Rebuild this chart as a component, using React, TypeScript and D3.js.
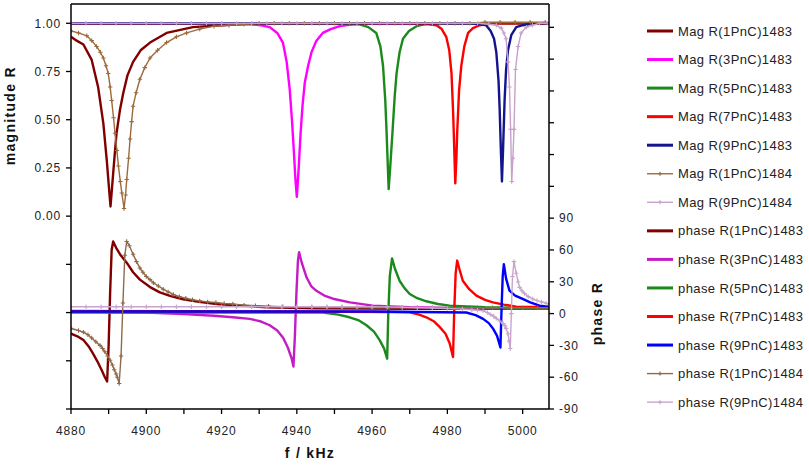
import React from 'react';
import * as d3 from 'd3';

const width = 809;
const height = 466;
const plotLeft = 71;
const plotRight = 549;
const plotTop = 4;
const plotBottom = 409;
const font = '"Liberation Sans", Arial, sans-serif';

type Pt = [number, number];

// magnitude R (left axis), [f kHz, R]
const magR1_1483: Pt[] = [
  [4880, 0.93], [4881.5, 0.91], [4883.3, 0.89], [4885.5, 0.81], [4887.2, 0.67], [4888.6, 0.48],
  [4889.5, 0.29], [4890.2, 0.12], [4890.5, 0.05], [4891.2, 0.22], [4891.7, 0.34], [4892.1, 0.43],
  [4893, 0.55], [4893.9, 0.64], [4895, 0.73], [4896.5, 0.8], [4898.5, 0.86], [4901, 0.9],
  [4905.4, 0.95], [4912.4, 0.98], [4920, 0.99], [4930, 1], [4950, 1], [4970, 1], [4990, 1], [5007, 1],
];
const magR3_1483: Pt[] = [
  [4880, 1], [4920, 1], [4927.5, 0.995], [4930.5, 0.99], [4932.8, 0.98], [4934.8, 0.95], [4936.3, 0.9],
  [4937.3, 0.8], [4938.1, 0.66], [4938.7, 0.5], [4939.2, 0.34], [4939.6, 0.2], [4940, 0.1],
  [4940.5, 0.25], [4941, 0.43], [4941.5, 0.57], [4942.1, 0.69], [4943, 0.78], [4943.9, 0.85],
  [4945.2, 0.91], [4946.9, 0.95], [4949, 0.97], [4951.4, 0.985], [4955, 0.995], [4960, 1], [5007, 1],
];
const magR5_1483: Pt[] = [
  [4880, 1], [4950, 1], [4956.7, 0.995], [4959, 0.98], [4961.1, 0.95], [4962.2, 0.88], [4962.9, 0.78],
  [4963.5, 0.6], [4963.8, 0.46], [4964.1, 0.3], [4964.4, 0.14], [4964.8, 0.25], [4965.4, 0.43],
  [4966, 0.62], [4966.5, 0.74], [4967.3, 0.85], [4968.2, 0.92], [4969.8, 0.96], [4971.8, 0.985],
  [4975, 1], [5007, 1],
];
const magR7_1483: Pt[] = [
  [4880, 1], [4970, 1], [4975, 0.995], [4977.1, 0.99], [4978.5, 0.97], [4979.7, 0.93], [4980.5, 0.86],
  [4981.1, 0.74], [4981.5, 0.55], [4981.7, 0.43], [4982.1, 0.17], [4982.4, 0.3], [4982.6, 0.43],
  [4983.1, 0.65], [4983.7, 0.78], [4984.5, 0.88], [4985.5, 0.95], [4986.8, 0.975], [4988.6, 0.99],
  [4992, 1], [5007, 1],
];
const magR9_1483: Pt[] = [
  [4880, 1], [4960, 1], [4986, 1], [4989, 0.995], [4990.3, 0.99], [4991.5, 0.96], [4992.4, 0.92],
  [4993, 0.85], [4993.6, 0.7], [4993.9, 0.55], [4994.2, 0.35], [4994.5, 0.18], [4994.8, 0.35],
  [4995.2, 0.6], [4995.6, 0.76], [4996.1, 0.86], [4997, 0.94], [4998.3, 0.98], [5000, 0.99],
  [5003, 1], [5007, 1],
];
const magR1_1484: Pt[] = [
  [4880, 0.96], [4882, 0.95], [4884.2, 0.935], [4885.5, 0.91], [4886.8, 0.88], [4887.8, 0.85],
  [4888.6, 0.82], [4889.3, 0.78], [4889.9, 0.74], [4890.4, 0.67], [4890.8, 0.6], [4891.3, 0.51],
  [4891.7, 0.43], [4892.2, 0.34], [4892.6, 0.26], [4893.1, 0.18], [4893.5, 0.12], [4894.1, 0.04],
  [4894.5, 0.11], [4894.8, 0.19], [4895.3, 0.3], [4895.7, 0.4], [4896.1, 0.49], [4896.5, 0.57],
  [4897.3, 0.64], [4898.3, 0.71], [4899.6, 0.77], [4901, 0.82], [4903, 0.86], [4905.4, 0.9],
  [4908, 0.93], [4910.7, 0.95], [4914.2, 0.97], [4918, 0.985], [4922, 0.99], [4926, 0.995],
  [4930, 1], [4934, 1], [4938, 1], [4942, 1], [4946, 1], [4950, 1], [4954, 1], [4958, 1],
  [4962, 1], [4966, 1], [4970, 1], [4974, 1], [4978, 1], [4982, 1], [4986, 1], [4990, 1.005],
  [4994, 1.005], [4998, 1.005], [5002, 1.005], [5006, 1.005],
];
const magR9_1484: Pt[] = [
  [4880, 1], [4884, 1], [4888, 1], [4892, 1], [4896, 1], [4900, 1], [4904, 1], [4908, 1],
  [4912, 1], [4916, 1], [4920, 1], [4924, 1], [4928, 1], [4932, 1], [4936, 1], [4940, 1],
  [4944, 1], [4948, 1], [4952, 1], [4956, 1], [4960, 1], [4964, 1], [4968, 1], [4972, 1],
  [4976, 1], [4980, 1], [4984, 1], [4988, 1], [4991, 0.995], [4993, 0.99], [4994.3, 0.975],
  [4995, 0.95], [4995.6, 0.92], [4996.1, 0.8], [4996.5, 0.67], [4996.8, 0.45], [4997.1, 0.18],
  [4997.4, 0.3], [4997.7, 0.45], [4998.1, 0.76], [4998.8, 0.88], [4999.6, 0.95], [5001, 0.98],
  [5002.6, 0.99], [5004.5, 1], [5006.5, 1],
];

// phase R (right axis), [f kHz, degrees]
const phaseR1_1483: Pt[] = [
  [4880, -19], [4882, -22], [4883.3, -25], [4884.7, -31], [4885.9, -38], [4887, -45], [4888.1, -53],
  [4889, -60], [4889.6, -64], [4890, -30], [4890.4, 20], [4890.8, 60], [4891.2, 68], [4892, 62],
  [4893, 56], [4894.8, 48], [4896.5, 39], [4898.3, 32], [4901, 25], [4903.6, 20], [4906.5, 16.5],
  [4909.8, 13.5], [4914, 11], [4918.7, 9], [4925, 7.5], [4932, 6], [4945, 5], [4970, 4.5], [5007, 4.5],
];
const phaseR3_1483: Pt[] = [
  [4880, 2], [4900, 1], [4910, -0.5], [4918, -2], [4923, -3.5], [4927.5, -5], [4930.5, -7.5],
  [4932.8, -11], [4934.8, -16], [4936.4, -23], [4937.6, -32], [4938.6, -42], [4939.1, -50],
  [4939.5, -20], [4939.9, 20], [4940.3, 50], [4940.6, 58], [4941.3, 48], [4942.6, 34], [4943.8, 26],
  [4945.2, 21.5], [4947.3, 17], [4949.6, 14], [4954.1, 10.6], [4960.2, 7.5], [4970, 6], [4985, 5],
  [5007, 4.5],
];
const phaseR5_1483: Pt[] = [
  [4880, 1], [4920, 1], [4947, 1], [4951, -1], [4954, -3.5], [4956.5, -6.5], [4958.5, -11],
  [4960.5, -17], [4962, -25], [4963.2, -33], [4964, -42.5], [4964.3, 0], [4964.7, 35], [4965.3, 52],
  [4966.1, 42], [4967.3, 31], [4968.6, 24], [4970, 18.5], [4972, 14.5], [4974.4, 11.6], [4977.5, 9],
  [4980.6, 7.5], [4990, 6], [5007, 5],
];
const phaseR7_1483: Pt[] = [
  [4880, 2.5], [4940, 2], [4965, 1.5], [4970, 1.2], [4972.5, -1], [4974.4, -3.5], [4976.5, -7.5],
  [4978, -12.8], [4979.5, -19], [4980.6, -28], [4981.5, -41], [4981.8, 0], [4982.2, 38], [4982.6, 50],
  [4983.2, 42], [4984.1, 31], [4985.8, 23], [4987.7, 17], [4990, 13], [4992.1, 10.6], [4995, 8.5],
  [4998.3, 6.6], [5007, 6],
];
const phaseR9_1483: Pt[] = [
  [4880, 2], [4960, 2], [4985, 1], [4987.5, -1.5], [4989.5, -5], [4991, -9], [4992.1, -14],
  [4993.2, -21], [4994.1, -32], [4994.4, 5], [4994.7, 35], [4995, 46.5], [4995.6, 33], [4996.5, 21.6],
  [4998, 17], [5000, 13.8], [5002, 10.5], [5004.5, 7.5], [5007, 6.5],
];
const phaseR1_1484: Pt[] = [
  [4880, -14], [4882, -16], [4883.3, -17.5], [4884.5, -20], [4885.5, -23], [4886.6, -26.5],
  [4887.7, -30], [4888.4, -33], [4889, -36], [4889.7, -40], [4890.4, -44], [4891, -48.5],
  [4891.5, -53], [4892, -57], [4892.3, -60], [4892.8, -66], [4893.3, -40], [4893.8, 10],
  [4894.3, 55], [4894.8, 68], [4895.5, 64], [4896.5, 56], [4897.4, 49], [4898.3, 43], [4899.1, 39],
  [4900, 35], [4901, 32], [4901.9, 29], [4903.2, 26], [4904.5, 23], [4905.8, 20.5], [4907.2, 18],
  [4908.8, 16], [4910.5, 14.5], [4912.3, 13], [4914.2, 12], [4916.3, 11], [4918.5, 10.5],
  [4920.7, 9.5], [4923, 9], [4926, 8], [4929, 7.5], [4932.5, 7], [4936.3, 6.5], [4940, 6.2],
  [4944, 6], [4948, 5.8], [4952, 5.7], [4956, 5.6], [4960, 5.5], [4964, 5.5], [4968, 5.5],
  [4972, 5.5], [4976, 5.5], [4980, 5.5], [4984, 5.5], [4988, 5.5], [4992, 5.5], [4996, 5.5],
  [5000, 5.5], [5004, 5.5], [5007, 5.5],
];
const phaseR9_1484: Pt[] = [
  [4880, 6.5], [4884, 6.5], [4888, 6.5], [4892, 6.5], [4896, 6.5], [4900, 6.5], [4904, 6.5],
  [4908, 6.5], [4912, 6.5], [4916, 6.5], [4920, 6.5], [4924, 6.5], [4928, 6.5], [4932, 6.5],
  [4936, 6.5], [4940, 6.5], [4944, 6.5], [4948, 6.5], [4952, 6.5], [4956, 6.5], [4960, 6.5],
  [4964, 6.3], [4968, 6], [4972, 5.6], [4976, 5.2], [4980, 4.8], [4984, 4.2], [4986.5, 3.6],
  [4988, 3.2], [4989.5, 2.8], [4990.6, 1], [4991.5, -1], [4992.3, -2.5], [4993, -4.5],
  [4993.9, -7], [4994.8, -9.5], [4995.3, -11.5], [4995.6, -14], [4996.1, -19], [4996.4, -26],
  [4996.7, -33], [4997, 0], [4997.3, 35], [4997.7, 49], [4998.3, 38], [4998.8, 30], [4999.2, 24.7],
  [4999.8, 21.5], [5000.5, 19], [5001.5, 16], [5002.7, 13.8], [5003.8, 12.3], [5005, 11],
  [5006.2, 9.8], [5007, 9],
];

const seriesNames = [
  'Mag R(1PnC)1483', 'Mag R(3PnC)1483', 'Mag R(5PnC)1483', 'Mag R(7PnC)1483', 'Mag R(9PnC)1483',
  'Mag R(1PnC)1484', 'Mag R(9PnC)1484',
  'phase R(1PnC)1483', 'phase R(3PnC)1483', 'phase R(5PnC)1483', 'phase R(7PnC)1483',
  'phase R(9PnC)1483', 'phase R(1PnC)1484', 'phase R(9PnC)1484',
];
const seriesData = [
  magR1_1483, magR3_1483, magR5_1483, magR7_1483, magR9_1483, magR1_1484, magR9_1484,
  phaseR1_1483, phaseR3_1483, phaseR5_1483, phaseR7_1483, phaseR9_1483, phaseR1_1484, phaseR9_1484,
];

const magTicks = [-1, -0.75, -0.5, -0.25, 0, 0.25, 0.5, 0.75, 1];
const phaseTicks = [-90, -60, -30, 0, 30, 60, 90, 120, 150, 180, 210, 240, 270];
const freqTicks = [4880, 4890, 4900, 4910, 4920, 4930, 4940, 4950, 4960, 4970, 4980, 4990, 5000];

const colors = [
  '#800000', '#ff00ff', '#1b8a1b', '#ff0000', '#14148c', '#9c6b3c', '#c8a0cc',
  '#800000', '#c41cc4', '#1b8a1b', '#ff0000', '#0000ff', '#8f6a48', '#c8a6cc',
];
const withMarker = (i: number) => i === 5 || i === 6 || i === 12 || i === 13;
const isPhase = (i: number) => i >= 7;

const x = d3.scaleLinear().domain([4880, 5007]).range([plotLeft, plotRight]);
const yMag = d3.scaleLinear().domain([-1, 1.1]).range([plotBottom, plotTop]);
const yPhase = d3.scaleLinear().domain([-90, 292]).range([plotBottom, plotTop]);

const App = () => {
  const legendY = (i: number) => 31 + i * 28.55;
  return (
    <svg width={width} height={height} style={{ position: 'absolute', left: 0, top: 0, background: '#fff' }}>
      <defs>
        <clipPath id="plot">
          <rect x={plotLeft} y={plotTop} width={plotRight - plotLeft} height={plotBottom - plotTop} />
        </clipPath>
      </defs>
      <rect width={width} height={height} fill="#fff" />

      <g clipPath="url(#plot)">
        {seriesData.map((data, i) => {
          const yS = isPhase(i) ? yPhase : yMag;
          const gen = d3.line<Pt>().x(d => x(d[0])).y(d => yS(d[1]));
          const marker = withMarker(i);
          return (
            <g key={i}>
              <path d={gen(data) as string} fill="none" stroke={colors[i]}
                strokeWidth={marker ? 1.4 : 2.4} strokeLinejoin="round" />
              {marker && data.map((d, j) => (
                <path key={j} d={`M${x(d[0]) - 2.2},${yS(d[1])}h4.4M${x(d[0])},${yS(d[1]) - 2.2}v4.4`}
                  stroke={colors[i]} strokeWidth={1.1} />
              ))}
            </g>
          );
        })}
      </g>

      {/* frame and axes */}
      <g stroke="#000" strokeWidth={1.5} fill="none">
        <line x1={plotLeft} x2={plotRight} y1={plotTop} y2={plotTop} />
        <line x1={plotLeft} x2={plotRight} y1={plotBottom} y2={plotBottom} />
        <line x1={plotLeft} x2={plotLeft} y1={plotTop} y2={plotBottom} />
        <line x1={plotRight} x2={plotRight} y1={plotTop} y2={plotBottom} />
      </g>

      {/* left axis */}
      <g fontFamily={font} fontSize={12} fill="#222" letterSpacing={0.8}>
        {magTicks.map(t => (
          <g key={t}>
            <line x1={plotLeft - 5} x2={plotLeft} y1={yMag(t)} y2={yMag(t)} stroke="#000" strokeWidth={1.3} />
            {t >= 0 && (
              <text x={plotLeft - 10} y={yMag(t) + 4.3} textAnchor="end">{t.toFixed(2)}</text>
            )}
          </g>
        ))}
      </g>

      {/* right axis */}
      <g fontFamily={font} fontSize={12} fill="#222" letterSpacing={0.8}>
        {phaseTicks.map(t => (
          <g key={t}>
            <line x1={plotRight} x2={plotRight + 5} y1={yPhase(t)} y2={yPhase(t)} stroke="#000" strokeWidth={1.3} />
            {t <= 90 && (
              <text x={plotRight + 10} y={yPhase(t) + 4.3}>{t}</text>
            )}
          </g>
        ))}
      </g>

      {/* bottom axis */}
      <g fontFamily={font} fontSize={12} fill="#222" letterSpacing={0.8}>
        {freqTicks.map(t => (
          <g key={t}>
            <line x1={x(t)} x2={x(t)} y1={plotBottom} y2={plotBottom + 5} stroke="#000" strokeWidth={1.3} />
            {(t - 4880) % 20 === 0 && (
              <text x={x(t)} y={435} textAnchor="middle">{t}</text>
            )}
          </g>
        ))}
      </g>

      {/* axis titles */}
      <g fontFamily={font} fontSize={14} fontWeight="bold" fill="#111" letterSpacing={1.3}>
        <text x={(plotLeft + plotRight) / 2} y={458} textAnchor="middle">f / kHz</text>
        <text transform={`translate(15, ${(yMag(0) + yMag(1)) / 2 - 4}) rotate(-90)`} textAnchor="middle">magnitude R</text>
        <text transform={`translate(602, ${yPhase(0)}) rotate(-90)`} textAnchor="middle">phase R</text>
      </g>

      {/* legend */}
      <g fontFamily={font} fontSize={13} fill="#222" letterSpacing={0.4}>
        {seriesNames.map((name, i) => {
          const y = legendY(i);
          const marker = withMarker(i);
          return (
            <g key={name}>
              <line x1={647} x2={673} y1={y} y2={y} stroke={colors[i]} strokeWidth={marker ? 1.4 : 3} />
              {marker && (
                <path d={`M658,${y}h4M660,${y - 2}v4`} stroke={colors[i]} strokeWidth={1.2} />
              )}
              <text x={678} y={y + 4.6}>{name}</text>
            </g>
          );
        })}
      </g>
    </svg>
  );
};

export default App;
